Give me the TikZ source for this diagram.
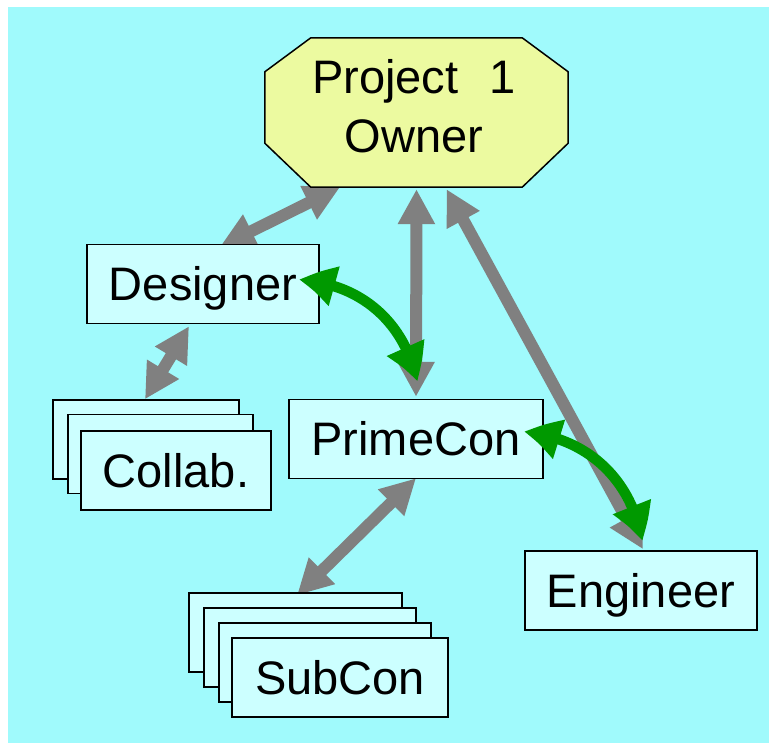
\documentclass[tikz,border=0pt]{standalone}
\usepackage{fontspec}
\setmainfont{Liberation Sans}
\usetikzlibrary{arrows.meta,bending}

\definecolor{sky}{RGB}{160,250,252}
\definecolor{boxfill}{RGB}{204,255,255}
\definecolor{ownerfill}{RGB}{236,250,160}
\definecolor{linkgray}{RGB}{128,128,128}
\definecolor{linkgreen}{RGB}{0,153,0}

\pgfdeclarelayer{back}
\pgfdeclarelayer{links}
\pgfsetlayers{back,links,main}

\tikzset{
  bigtext/.style={font=\fontsize{47pt}{59pt}\selectfont},
  role/.style={draw=black, line width=1.5pt, fill=boxfill, inner sep=0pt,
    minimum height=79pt, text height=33pt, text depth=0pt, bigtext},
  graylink/.style={draw=linkgray, line width=12pt,
    arrows={Triangle[width=35pt,length=35pt]-Triangle[width=35pt,length=35pt]}},
  greenlink/.style={draw=linkgreen, line width=10.5pt,
    arrows={Triangle[width=38pt,length=37pt,bend]-Triangle[width=38pt,length=37pt,bend]}},
}

\begin{document}
\begin{tikzpicture}[x=1pt, y=-1pt]
  \useasboundingbox (0,0) rectangle (769,743);
  \begin{pgfonlayer}{back}
    \fill[sky] (8,7) rectangle (769,743);
  \end{pgfonlayer}

  % project owner: octagon outline around a named frame
  \node (own) [inner sep=0pt, minimum width=303pt, minimum height=149pt] at (416.5,112.5) {};
  \draw[line width=1.5pt, fill=ownerfill]
    ([xshift=46pt]own.north west) -- ([xshift=-46pt]own.north east)
    -- ([yshift=-34pt]own.north east) -- ([yshift=44pt]own.south east)
    -- ([xshift=-46pt]own.south east) -- ([xshift=46pt]own.south west)
    -- ([yshift=44pt]own.south west) -- ([yshift=-34pt]own.north west) -- cycle;
  \node (ownlbl) [bigtext, align=center, inner sep=0pt] at (414,106)
    {Project\hspace{31pt}1\\Owner};

  % single roles
  \node (des) [role, minimum width=232pt] at (203,284) {Designer};
  \node (pc)  [role, minimum width=254pt] at (416,439) {PrimeCon};
  \node (eng) [role, minimum width=232pt] at (641,590.5) {Engineer};

  % collaborators stack
  \node (cb1) [role, minimum width=186pt] at (146,439.5) {};
  \node (cb2) [role, minimum width=185pt] at (160.5,454) {};
  \node (collab) [role, minimum width=190pt] at (176,470.5) {Collab.};

  % subcontractor stack
  \node (sb1) [role, minimum width=213pt] at (295.5,632.5) {};
  \node (sb2) [role, minimum width=212pt] at (310,647.5) {};
  \node (sb3) [role, minimum width=212pt] at (325,662.5) {};
  \node (sub) [role, minimum width=216pt] at (340,677.5) {SubCon};

  % gray two-way links, drawn beneath the boxes
  \begin{pgfonlayer}{links}
    \draw[graylink] ([xshift=17pt,yshift=-3pt]des.north) -- ([xshift=-76.5pt]own.south);
    \draw[graylink] ([yshift=-2pt]own.south) -- ([yshift=2pt]pc.north);
    \draw[graylink] ([xshift=30pt,yshift=-2pt]own.south) -- ([xshift=2pt,yshift=1pt]eng.north);
    \draw[graylink] ([xshift=-14pt,yshift=-2pt]des.south) -- ([xshift=-1pt]cb1.north);
    \draw[graylink] ([yshift=1pt]pc.south) -- ([xshift=1.5pt,yshift=-3pt]sb1.north);
  \end{pgfonlayer}

  % green two-way links on top
  \draw[greenlink] ([xshift=-21pt,yshift=4pt]des.east) to[bend left=38]
    ([xshift=1pt,yshift=17pt]pc.north);
  \draw[greenlink] ([xshift=-20pt,yshift=7pt]pc.east) to[bend left=38]
    ([xshift=1pt,yshift=9pt]eng.north);
\end{tikzpicture}
\end{document}
